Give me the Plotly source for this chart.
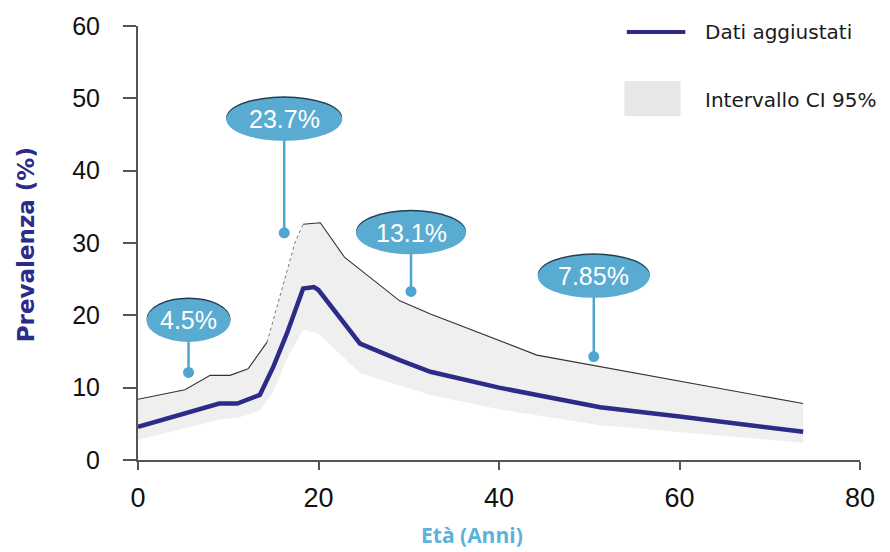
import plotly.graph_objects as go

# ---------------- data ----------------
age_adj = [0, 9, 11, 13.5, 15, 16.5, 18.3, 19.5, 20, 24.6, 29, 32.4, 40, 51.2, 60, 73.7]
prev_adj = [4.6, 7.8, 7.8, 9.0, 12.9, 17.5, 23.7, 23.9, 23.5, 16.1, 13.8, 12.2, 10.0, 7.3, 6.0, 3.9]

age_upper = [0, 5.2, 8, 10.2, 12.2, 14.3, 17.4, 18.3, 20.2, 22.9, 29, 32.4, 44.2, 73.7]
ci_upper = [8.4, 9.7, 11.7, 11.7, 12.6, 16.3, 30.1, 32.6, 32.8, 28.0, 22.0, 20.2, 14.5, 7.8]

age_lower = [0, 9, 11, 13.5, 15, 16.5, 18.3, 20, 24.6, 29, 32.4, 40, 51.2, 60, 73.7]
ci_lower = [2.8, 5.6, 5.8, 6.8, 9.5, 14.0, 18.0, 17.5, 12.0, 10.3, 9.0, 7.0, 4.8, 3.8, 2.4]

callout_labels = ["4.5%", "23.7%", "13.1%", "7.85%"]
callout_age = [5.6, 16.2, 30.25, 50.5]
callout_point = [12.1, 31.4, 23.3, 14.3]

x_ticks = [0, 20, 40, 60, 80]
y_ticks = [0, 10, 20, 30, 40, 50, 60]

# ---------------- layout / styling (not data) ----------------
bubble_y = [19.3, 47.1, 31.4, 25.4]
bubble_w = [84, 116, 110, 112]
bubble_h = 43

NAVY = "#2c2b88"
BUBBLE = "#5aabd1"
STEM = "#4ea5cf"
BAND = "#efefef"

fig = go.Figure()

# CI band
band_x = age_upper + age_lower[::-1]
band_y = ci_upper + ci_lower[::-1]
fig.add_trace(go.Scatter(x=band_x, y=band_y, fill="toself", fillcolor=BAND,
                         line=dict(width=0), mode="lines", hoverinfo="skip",
                         showlegend=False))

# upper CI line: solid parts and dotted rising part
fig.add_trace(go.Scatter(x=age_upper[:6], y=ci_upper[:6], mode="lines",
                         line=dict(color="#333333", width=1.1), showlegend=False))
fig.add_trace(go.Scatter(x=age_upper[5:8], y=ci_upper[5:8], mode="lines",
                         line=dict(color="#777777", width=1, dash="dot"), showlegend=False))
fig.add_trace(go.Scatter(x=age_upper[7:], y=ci_upper[7:], mode="lines",
                         line=dict(color="#333333", width=1.1), showlegend=False))

# adjusted data
fig.add_trace(go.Scatter(x=age_adj, y=prev_adj, mode="lines",
                         line=dict(color=NAVY, width=4.5), name="Dati aggiustati",
                         showlegend=False))

# callout stems
for xa, yp, yb in zip(callout_age, callout_point, bubble_y):
    fig.add_shape(type="line", xref="x", yref="y", x0=xa, x1=xa, y0=yp, y1=yb,
                  line=dict(color=STEM, width=2.5), layer="above")

# callout dots
fig.add_trace(go.Scatter(x=callout_age, y=callout_point, mode="markers",
                         marker=dict(color=STEM, size=11), showlegend=False,
                         hoverinfo="skip"))

# bubbles
for xa, yb, w, lab in zip(callout_age, bubble_y, bubble_w, callout_labels):
    fig.add_shape(type="circle", xref="x", yref="y", xsizemode="pixel", ysizemode="pixel",
                  xanchor=xa, yanchor=yb, x0=-w / 2, x1=w / 2,
                  y0=-bubble_h / 2 + 1.5, y1=bubble_h / 2 + 1.5,
                  fillcolor="#1f3f52", line=dict(width=0), layer="above")
    fig.add_shape(type="circle", xref="x", yref="y", xsizemode="pixel", ysizemode="pixel",
                  xanchor=xa, yanchor=yb, x0=-w / 2, x1=w / 2,
                  y0=-bubble_h / 2, y1=bubble_h / 2,
                  fillcolor=BUBBLE, line=dict(width=0), layer="above")
    fig.add_annotation(x=xa, y=yb, text=lab, showarrow=False, xref="x", yref="y",
                       font=dict(family="Liberation Sans, Arial, sans-serif", size=25,
                                 color="white"))

# manual legend
fig.add_shape(type="line", xref="paper", yref="paper", x0=0.677, x1=0.758,
              y0=0.986, y1=0.986, line=dict(color=NAVY, width=4))
fig.add_shape(type="rect", xref="paper", yref="paper", x0=0.6745, x1=0.7507,
              y0=0.7936, y1=0.8716, fillcolor="#e8e8e8", line=dict(color="#e2e2e2", width=1))
fig.add_annotation(x=0.7825, y=0.986, xref="paper", yref="paper", text="Dati aggiustati",
                   showarrow=False, xanchor="left", yanchor="middle",
                   font=dict(family="DejaVu Sans, Verdana, sans-serif", size=20, color="#1a1a1a"))
fig.add_annotation(x=0.7825, y=0.830, xref="paper", yref="paper", text="Intervallo CI 95%",
                   showarrow=False, xanchor="left", yanchor="middle",
                   font=dict(family="DejaVu Sans, Verdana, sans-serif", size=20, color="#1a1a1a"))

# axis titles
fig.add_annotation(x=-0.155, y=0.495, xref="paper", yref="paper", text="<b>Prevalenza (%)</b>",
                   textangle=-90, showarrow=False, xanchor="center", yanchor="middle",
                   font=dict(family="DejaVu Sans, Verdana, sans-serif", size=23, color=NAVY))
fig.add_annotation(x=0.4626, y=-0.172, xref="paper", yref="paper", text="<b>Età (Anni)</b>",
                   showarrow=False, xanchor="center", yanchor="middle",
                   font=dict(family="Open Sans, sans-serif", size=21, color="#5bb3dc"))

AX = "#555555"
fig.update_xaxes(range=[0, 80], tickvals=x_ticks, ticks="outside", ticklen=8,
                 tickwidth=2, tickcolor=AX, showline=True, linecolor=AX, linewidth=2,
                 showgrid=False, zeroline=False, ticklabelstandoff=5,
                 tickfont=dict(family="Liberation Sans, Arial, sans-serif", size=27, color="#111"))
fig.update_yaxes(range=[0, 60], tickvals=y_ticks, ticks="outside", ticklen=13,
                 tickwidth=2, tickcolor=AX, showline=True, linecolor=AX, linewidth=2,
                 showgrid=False, zeroline=False, ticklabelstandoff=18,
                 tickfont=dict(family="Liberation Sans, Arial, sans-serif", size=25, color="#111"))

fig.update_layout(width=890, height=552, plot_bgcolor="white", paper_bgcolor="white",
                  margin=dict(l=138, r=30, t=24, b=92), showlegend=False)

fig.write_html("out.html")
